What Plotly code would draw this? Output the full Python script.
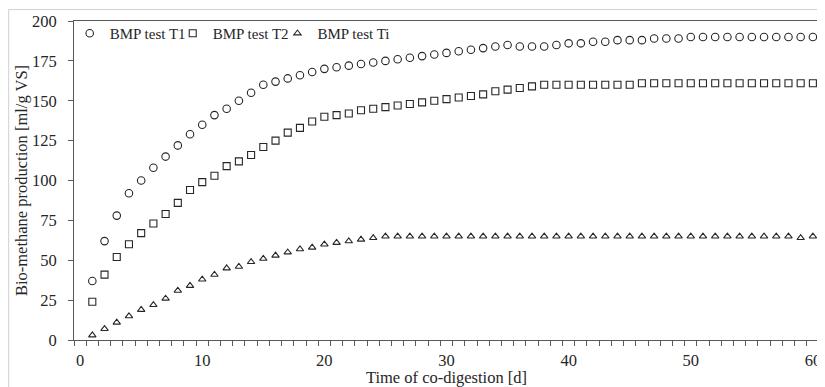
import plotly.graph_objects as go

days = list(range(1, 61))

t1_values = [37, 62, 78, 92, 100, 108, 115, 122, 129, 135,
             141, 145, 150, 155, 160, 162, 164, 166, 168, 170,
             171, 172, 173, 174, 175, 176, 177, 178, 179, 180,
             181, 182, 183, 184, 185, 184, 184, 184, 185, 186,
             186, 187, 187, 188, 188, 188, 189, 189, 189, 190,
             190, 190, 190, 190, 190, 190, 190, 190, 190, 190]

t2_values = [24, 41, 52, 60, 67, 73, 79, 86, 94, 99,
             103, 109, 112, 116, 121, 125, 130, 133, 137, 140,
             141, 142, 144, 145, 146, 147, 148, 149, 150, 151,
             152, 153, 154, 156, 157, 158, 159, 160, 160, 160,
             160, 160, 160, 160, 160, 161, 161, 161, 161, 161,
             161, 161, 161, 161, 161, 161, 161, 161, 161, 161]

ti_values = [3, 7, 11, 15, 19, 22, 26, 31, 34, 38,
             41, 45, 46, 49, 51, 53, 55, 57, 58, 60,
             61, 62, 63, 64, 65, 65, 65, 65, 65, 65,
             65, 65, 65, 65, 65, 65, 65, 65, 65, 65,
             65, 65, 65, 65, 65, 65, 65, 65, 65, 65,
             65, 65, 65, 65, 65, 65, 65, 65, 64, 65]

series_names = ["BMP test T1", "BMP test T2", "BMP test Ti"]
x_tick_values = [0, 10, 20, 30, 40, 50, 60]
y_tick_values = [0, 25, 50, 75, 100, 125, 150, 175, 200]

FONT = "Liberation Serif, Times New Roman, serif"
TXT = "#262626"
EDGE = "#262626"
AXIS = "#595959"

# page body has an 8px margin, so the figure starts at (8, 8)
W, H = 817, 379
ML, MR, MT, MB = 66, 4, 12, 45
PW, PH = W - ML - MR, H - MT - MB


def fx(px):
    return (px - ML) / PW


def fy(py):
    return (H - MB - py) / PH


fig = go.Figure()
styles = [("circle-open", 7.5), ("square-open", 7), ("triangle-up-open", 6.5)]
legend_ids = ["legend", "legend2", "legend3"]
for name, vals, (sym, sz), lg in zip(series_names, [t1_values, t2_values, ti_values], styles, legend_ids):
    fig.add_trace(go.Scatter(
        x=days, y=vals, name=name, mode="markers", legend=lg,
        marker=dict(symbol=sym, size=sz, color=EDGE, line=dict(width=1.1, color=EDGE)),
    ))

legend_x_px = [61.7, 165, 270]
legend_common = dict(
    orientation="h", xanchor="left", yanchor="top", y=fy(8),
    bgcolor="rgba(0,0,0,0)", borderwidth=0,
    font=dict(family=FONT, size=15, color=TXT),
    itemwidth=30,
)

fig.update_layout(
    width=W, height=H,
    margin=dict(l=ML, r=MR, t=MT, b=MB, pad=0),
    paper_bgcolor="white", plot_bgcolor="white",
    font=dict(family=FONT, color=TXT, size=16),
    showlegend=True,
    legend=dict(x=fx(legend_x_px[0]), **legend_common),
    legend2=dict(x=fx(legend_x_px[1]), **legend_common),
    legend3=dict(x=fx(legend_x_px[2]), **legend_common),
    xaxis=dict(
        range=[-0.5, 60.5], tickmode="array", tickvals=x_tick_values,
        ticks="", showgrid=False, zeroline=False,
        showline=True, linecolor=AXIS, linewidth=1, mirror=True,
        tickfont=dict(family=FONT, size=16.5, color=TXT),
        ticklabelstandoff=5,
        minor=dict(tick0=0.5, dtick=1, ticks="outside", ticklen=5, tickcolor=AXIS, tickwidth=1, showgrid=False),
        title=dict(text="Time of co-digestion [d]", font=dict(family=FONT, size=16.5, color=TXT), standoff=2),
    ),
    yaxis=dict(
        range=[0, 200], tickmode="array", tickvals=y_tick_values,
        ticks="outside", ticklen=5, tickcolor=AXIS, tickwidth=1,
        showgrid=False, zeroline=False,
        showline=True, linecolor=AXIS, linewidth=1, mirror=True,
        tickfont=dict(family=FONT, size=16.5, color=TXT),
        ticklabelstandoff=8,
        title=dict(text="Bio-methane production [ml/g VS]", font=dict(family=FONT, size=16.5, color=TXT), standoff=0),
    ),
    shapes=[
        dict(type="line", xref="paper", yref="paper",
             x0=fx(0.5), x1=fx(0.5), y0=fy(H + 20), y1=fy(0.5),
             line=dict(color="#d0d0d0", width=1), layer="above"),
        dict(type="line", xref="paper", yref="paper",
             x0=fx(0.5), x1=fx(W + 20), y0=fy(0.5), y1=fy(0.5),
             line=dict(color="#d0d0d0", width=1), layer="above"),
    ],
)

fig.write_html("out.html")
